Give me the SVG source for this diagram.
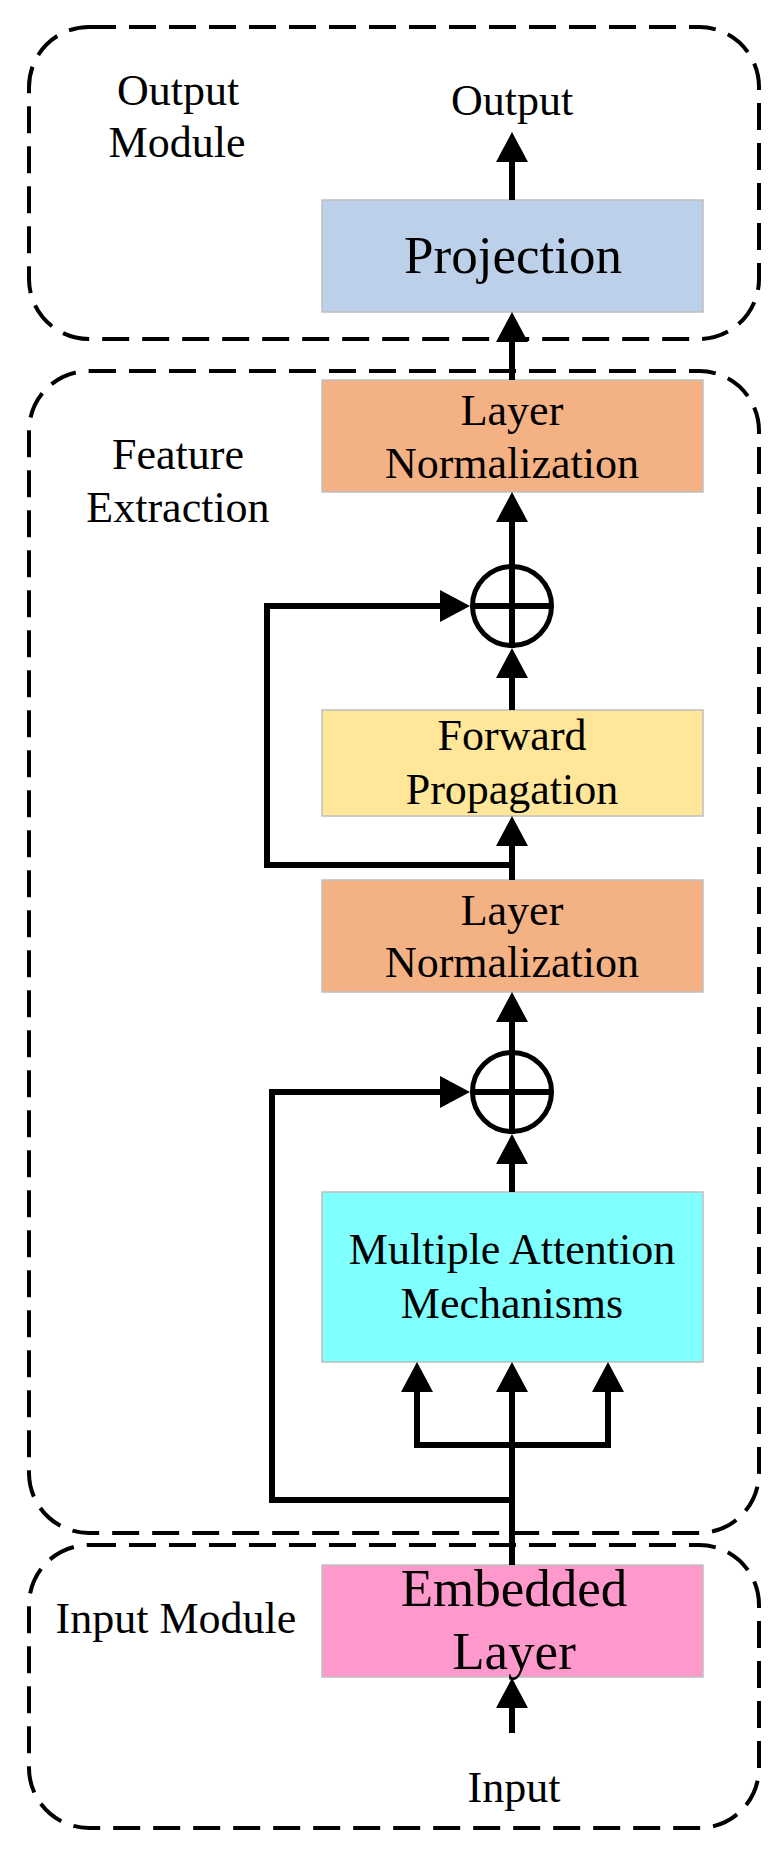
<svg xmlns="http://www.w3.org/2000/svg" width="784" height="1859" viewBox="0 0 784 1859">
<style>
.grp{fill:none;stroke:#000;stroke-width:4;stroke-dasharray:27 13}
.box{stroke:#BFBFBF;stroke-width:1.5}
.t{font-family:"Liberation Serif","Times New Roman",serif;font-size:44px;fill:#000;text-anchor:middle}
.big{font-size:53px}
.c{fill:none;stroke:#000;stroke-width:6;stroke-linejoin:miter;stroke-linecap:butt}
.sum{fill:none;stroke:#000;stroke-width:5}
</style>
<defs>
<marker id="ah" markerUnits="userSpaceOnUse" markerWidth="32" markerHeight="32" viewBox="0 0 30 32" refX="2" refY="16" orient="auto">
<path d="M0,0 L30,16 L0,32 z" fill="#000"/>
</marker>
</defs>
<rect width="784" height="1859" fill="#fff"/>

<g id="output-module">
<rect class="grp" x="29" y="27" width="730" height="312" rx="60" ry="60"/>
<text class="t" x="178" y="105">Output</text>
<text class="t" x="177" y="157">Module</text>
</g>
<g id="feature-extraction">
<rect class="grp" x="29" y="371" width="730" height="1162" rx="60" ry="60"/>
<text class="t" x="178" y="469">Feature</text>
<text class="t" x="178" y="522">Extraction</text>
</g>
<g id="input-module">
<rect class="grp" x="29" y="1545" width="730" height="283" rx="60" ry="60"/>
<text class="t" x="176" y="1633">Input Module</text>
</g>

<g id="output-label"><text class="t" x="512" y="115">Output</text></g>
<g id="input-label"><text class="t" x="514" y="1802">Input</text></g>

<g id="projection">
<rect class="box" x="322" y="200" width="381" height="112" fill="#BDD0E9"/>
<text class="t big" x="513" y="273">Projection</text>
</g>
<g id="layer-norm-1">
<rect class="box" x="322" y="380" width="381" height="112" fill="#F4B183"/>
<text class="t" x="512" y="425">Layer</text>
<text class="t" x="512" y="478">Normalization</text>
</g>
<g id="add-1">
<circle class="sum" cx="512" cy="606" r="39.5"/>
<path class="c" d="M512,564 V648 M472,606 H553"/>
</g>
<g id="forward-propagation">
<rect class="box" x="322" y="710" width="381" height="106" fill="#FFE699"/>
<text class="t" x="512" y="750">Forward</text>
<text class="t" x="512" y="804">Propagation</text>
</g>
<g id="layer-norm-2">
<rect class="box" x="322" y="880" width="381" height="112" fill="#F4B183"/>
<text class="t" x="512" y="925">Layer</text>
<text class="t" x="512" y="977">Normalization</text>
</g>
<g id="add-2">
<circle class="sum" cx="512" cy="1092" r="39.5"/>
<path class="c" d="M512,1050 V1134 M472,1092 H553"/>
</g>
<g id="multi-attention">
<rect class="box" x="322" y="1192" width="381" height="170" fill="#80FFFF"/>
<text class="t" x="512" y="1264">Multiple Attention</text>
<text class="t" x="512" y="1318">Mechanisms</text>
</g>
<g id="embedded-layer">
<rect class="box" x="322" y="1565" width="381" height="112" fill="#FF99CC"/>
<text class="t big" x="514" y="1606">Embedded</text>
<text class="t big" x="514" y="1669">Layer</text>
</g>

<g id="connectors">
<path class="c" d="M512,200 V160" marker-end="url(#ah)"/>
<path class="c" d="M512,380 V340" marker-end="url(#ah)"/>
<path class="c" d="M512,564 V520" marker-end="url(#ah)"/>
<path class="c" d="M512,710 V676" marker-end="url(#ah)"/>
<path class="c" d="M512,880 V844" marker-end="url(#ah)"/>
<path class="c" d="M512,865 H267 V606 H442" marker-end="url(#ah)"/>
<path class="c" d="M512,1050 V1020" marker-end="url(#ah)"/>
<path class="c" d="M512,1192 V1162" marker-end="url(#ah)"/>
<path class="c" d="M512,1500 H272 V1092 H442" marker-end="url(#ah)"/>
<path class="c" d="M512,1565 V1390" marker-end="url(#ah)"/>
<path class="c" d="M512,1445 H417 V1390" marker-end="url(#ah)"/>
<path class="c" d="M512,1445 H608 V1390" marker-end="url(#ah)"/>
<path class="c" d="M512,1733 V1706" marker-end="url(#ah)"/>
</g>
</svg>
